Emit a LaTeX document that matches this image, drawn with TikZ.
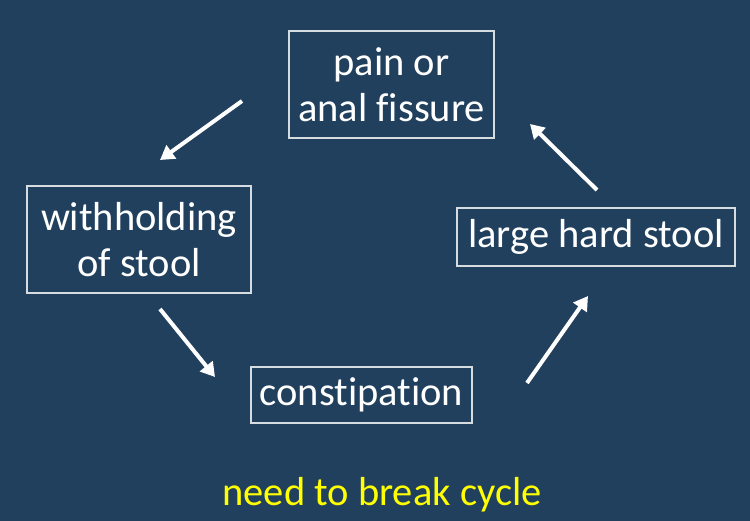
\documentclass[tikz,border=0pt]{standalone}
\usepackage{fontspec}
\setmainfont[Ligatures=NoCommon]{Carlito}
\usetikzlibrary{arrows.meta}
\definecolor{bg}{RGB}{33,64,94}
\definecolor{boxline}{RGB}{215,220,225}
\definecolor{yel}{RGB}{255,255,0}
\begin{document}
\begin{tikzpicture}[x=1pt,y=-1pt,
  cbox/.style={draw=boxline,line width=1.5pt,text=white,align=center,inner sep=0pt,
    font=\fontsize{40.5}{46}\selectfont},
  arr/.style={draw=white,line width=4pt,-{Triangle[length=14pt,width=16pt]}}]
\fill[bg] (0,0) rectangle (750,521);
\useasboundingbox (0,0) rectangle (750,521);
\node[cbox,minimum width=205pt,minimum height=107pt] (pain) at (391.5,84.5) {pain or\\anal fissure};
\node[cbox,minimum width=224pt,minimum height=107pt] (with) at (139,239.5) {withholding\\of stool};
\node[cbox,minimum width=278pt,minimum height=58pt] (large) at (596,237) {large hard stool};
\node[cbox,minimum width=221pt,minimum height=56pt] (const) at (361.5,395) {constipation};
\node[text=yel,font=\fontsize{40.5}{46}\selectfont] (need) at (382,495) {need to break cycle};
\coordinate (a1s) at (242,101); \coordinate (a1e) at (160,160);
\coordinate (a2s) at (160,309); \coordinate (a2e) at (215,377);
\coordinate (a3s) at (527,383); \coordinate (a3e) at (588,296);
\coordinate (a4s) at (597,190); \coordinate (a4e) at (530,124);
\draw[arr] (a1s) -- (a1e);
\draw[arr] (a2s) -- (a2e);
\draw[arr] (a3s) -- (a3e);
\draw[arr] (a4s) -- (a4e);
\end{tikzpicture}
\end{document}
